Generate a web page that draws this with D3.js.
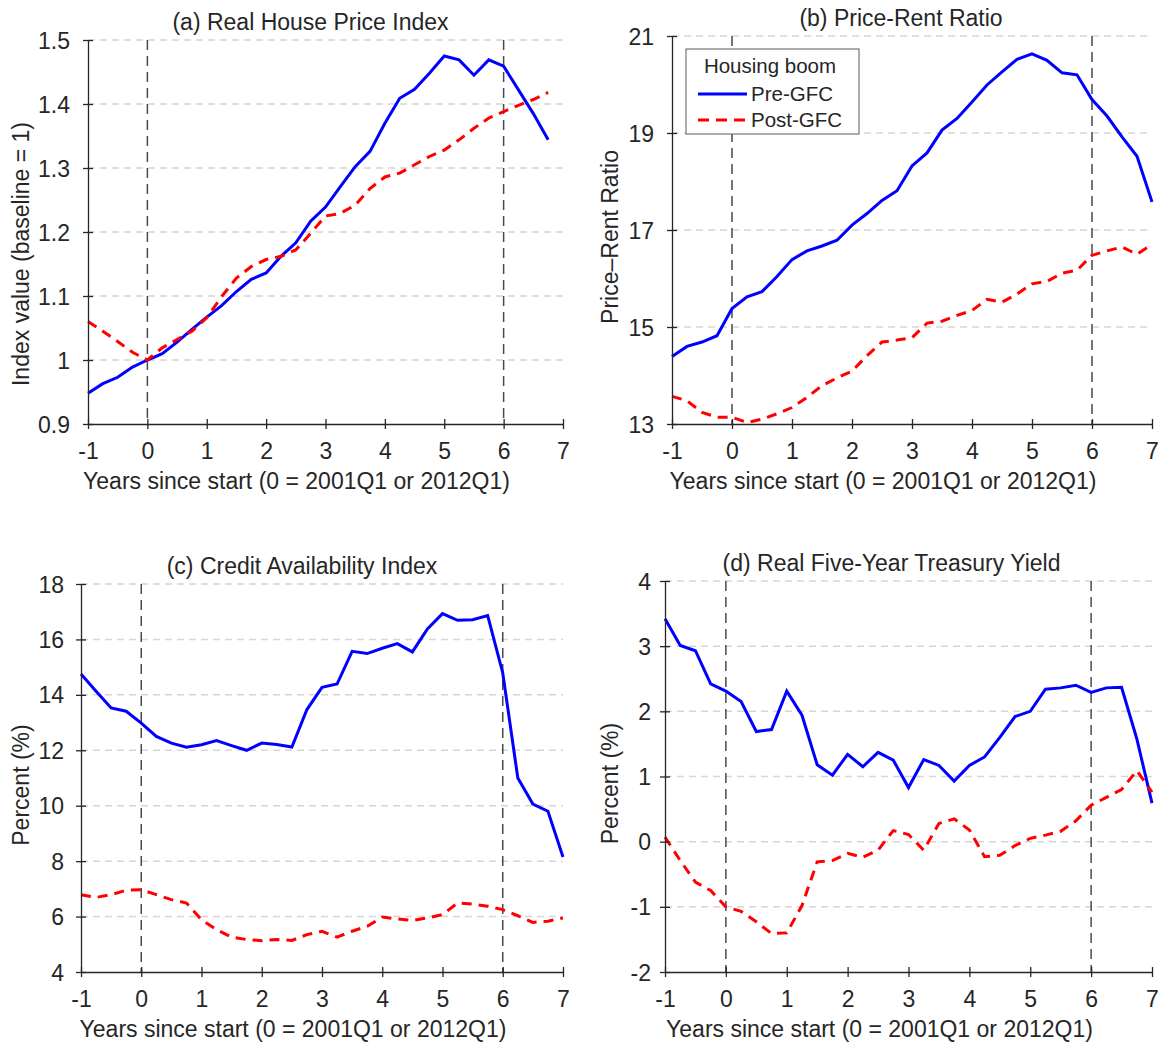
<!DOCTYPE html>
<html>
<head>
<meta charset="utf-8">
<script src="https://cdnjs.cloudflare.com/ajax/libs/d3/7.8.5/d3.min.js"></script>
<style>
    body { margin: 0; background: #fff; }
    svg text { font-family: "Liberation Sans", Arial, Helvetica, sans-serif; fill: #262626; }
</style>
</head>
<body>
<svg width="1162" height="1042"></svg>
<script>
// quarters since start of the boom
var years = [-1, -0.75, -0.5, -0.25, 0, 0.25, 0.5, 0.75, 1, 1.25, 1.5, 1.75, 2, 2.25, 2.5, 2.75,
    3, 3.25, 3.5, 3.75, 4, 4.25, 4.5, 4.75, 5, 5.25, 5.5, 5.75, 6, 6.25, 6.5, 6.75, 7];
var xTicks = [-1, 0, 1, 2, 3, 4, 5, 6, 7];
var boomLines = [0, 6];
var seriesNames = ["Pre-GFC", "Post-GFC"];

// (a) real house price index
var hpiPre = [0.948, 0.963, 0.973, 0.989, 1.000, 1.010, 1.028, 1.048, 1.067, 1.085, 1.107, 1.126, 1.136, 1.162, 1.183, 1.217,
    1.239, 1.271, 1.302, 1.326, 1.370, 1.409, 1.423, 1.448, 1.475, 1.469, 1.445, 1.469, 1.459, 1.422, 1.385, 1.344];
var hpiPost = [1.060, 1.045, 1.029, 1.012, 1.000, 1.019, 1.032, 1.045, 1.066, 1.099, 1.128, 1.146, 1.157, 1.162, 1.172, 1.198,
    1.225, 1.229, 1.242, 1.268, 1.286, 1.292, 1.305, 1.318, 1.328, 1.344, 1.362, 1.378, 1.388, 1.398, 1.407, 1.418];
var hpiTicks = [0.9, 1, 1.1, 1.2, 1.3, 1.4, 1.5];

// (b) price-rent ratio
var prPre = [14.39, 14.60, 14.69, 14.82, 15.38, 15.62, 15.73, 16.04, 16.39, 16.57, 16.67, 16.79, 17.10, 17.34, 17.61, 17.81,
    18.32, 18.59, 19.06, 19.30, 19.64, 19.99, 20.26, 20.52, 20.63, 20.50, 20.24, 20.20, 19.69, 19.35, 18.92, 18.52, 17.58];
var prPost = [13.57, 13.48, 13.24, 13.14, 13.14, 13.03, 13.10, 13.21, 13.34, 13.55, 13.79, 13.95, 14.09, 14.41, 14.69, 14.73,
    14.78, 15.08, 15.12, 15.24, 15.34, 15.57, 15.51, 15.68, 15.89, 15.94, 16.11, 16.17, 16.48, 16.57, 16.65, 16.50, 16.70];
var prTicks = [13, 15, 17, 19, 21];

// (c) credit availability index
var caiPre = [14.75, 14.13, 13.53, 13.41, 12.98, 12.50, 12.26, 12.11, 12.20, 12.35, 12.17, 12.00, 12.26, 12.21, 12.12, 13.47,
    14.27, 14.39, 15.57, 15.49, 15.68, 15.85, 15.55, 16.38, 16.93, 16.69, 16.71, 16.86, 14.79, 11.00, 10.06, 9.80, 8.15];
var caiPost = [6.79, 6.69, 6.79, 6.95, 6.97, 6.79, 6.61, 6.49, 5.89, 5.53, 5.26, 5.17, 5.13, 5.17, 5.14, 5.35,
    5.47, 5.26, 5.47, 5.65, 5.98, 5.92, 5.86, 5.95, 6.07, 6.49, 6.45, 6.37, 6.25, 6.03, 5.79, 5.83, 5.95];
var caiTicks = [4, 6, 8, 10, 12, 14, 16, 18];

// (d) real five-year treasury yield
var tyPre = [3.42, 3.01, 2.93, 2.42, 2.31, 2.15, 1.69, 1.72, 2.31, 1.94, 1.18, 1.02, 1.34, 1.15, 1.37, 1.25,
    0.83, 1.26, 1.17, 0.93, 1.17, 1.30, 1.60, 1.92, 2.00, 2.34, 2.36, 2.40, 2.29, 2.36, 2.37, 1.58, 0.59];
var tyPost = [0.07, -0.29, -0.62, -0.75, -1.00, -1.07, -1.23, -1.41, -1.40, -0.98, -0.31, -0.29, -0.18, -0.24, -0.13, 0.17,
    0.11, -0.13, 0.28, 0.35, 0.18, -0.23, -0.21, -0.06, 0.05, 0.10, 0.16, 0.32, 0.56, 0.68, 0.80, 1.09, 0.76];
var tyTicks = [-2, -1, 0, 1, 2, 3, 4];

var xLabel = "Years since start (0 = 2001Q1 or 2012Q1)";

var svg = d3.select("svg");
var FONT = 23;

function panel(box, pre, post, yTicks, title, yLabel) {
    var g = svg.append("g");

    var x = d3.scaleLinear().domain([-1, 7]).range([box.left, box.right]);
    var y = d3.scaleLinear().domain(d3.extent(yTicks)).range([box.bottom, box.top]);

    // horizontal grid
    g.selectAll(".grid")
        .data(yTicks.slice(1))
        .enter().append("line")
        .attr("x1", box.left).attr("x2", box.right)
        .attr("y1", function (d) { return y(d); })
        .attr("y2", function (d) { return y(d); })
        .attr("stroke", "#d6d6d6")
        .attr("stroke-width", 1.5)
        .attr("stroke-dasharray", "7,5");

    // start / end of boom markers
    g.selectAll(".mark")
        .data(boomLines)
        .enter().append("line")
        .attr("x1", function (d) { return x(d); })
        .attr("x2", function (d) { return x(d); })
        .attr("y1", box.top).attr("y2", box.bottom)
        .attr("stroke", "#4a4a4a")
        .attr("stroke-width", 1.5)
        .attr("stroke-dasharray", "10,6");

    var line = d3.line()
        .x(function (d, i) { return x(years[i]); })
        .y(function (d) { return y(d); });

    g.append("path")
        .datum(pre)
        .attr("fill", "none")
        .attr("stroke", "#0000ff")
        .attr("stroke-width", 3)
        .attr("d", line);

    g.append("path")
        .datum(post)
        .attr("fill", "none")
        .attr("stroke", "#ff0000")
        .attr("stroke-width", 3)
        .attr("stroke-dasharray", "10,7")
        .attr("d", line);

    // axes
    var xAxis = g.append("g")
        .attr("transform", "translate(0," + box.bottom + ")")
        .call(d3.axisBottom(x).tickValues(xTicks).tickSizeInner(5).tickSizeOuter(0)
            .tickFormat(function (d) { return String(d); }));
    xAxis.selectAll(".tick line").attr("y1", -5);
    xAxis.selectAll(".tick text").attr("y", 27).attr("dy", "0.35em");

    var yAxis = g.append("g")
        .attr("transform", "translate(" + box.left + ",0)")
        .call(d3.axisLeft(y).tickValues(yTicks).tickSizeInner(5).tickSizeOuter(0)
            .tickFormat(function (d) { return String(d); }));
    yAxis.selectAll(".tick line").attr("x1", 5);
    yAxis.selectAll(".tick text").attr("x", -box.gap).attr("dy", "0.35em");

    [xAxis, yAxis].forEach(function (a) {
        a.attr("font-size", FONT).attr("font-family", null);
        a.selectAll("path, line").attr("stroke", "#262626").attr("stroke-width", 1.3);
        a.selectAll("text").attr("fill", "#262626");
    });

    var cx = (box.left + box.right) / 2;
    g.append("text")
        .attr("x", cx - box.titleShift)
        .attr("y", box.top - 10)
        .attr("text-anchor", "middle")
        .attr("font-size", FONT)
        .text(title);

    g.append("text")
        .attr("x", cx - 29)
        .attr("y", box.bottom + 57)
        .attr("dy", "0.35em")
        .attr("text-anchor", "middle")
        .attr("font-size", FONT)
        .text(xLabel);

    g.append("text")
        .attr("transform", "translate(" + box.yLabelX + "," + ((box.top + box.bottom) / 2 + box.yLabelShift) + ") rotate(-90)")
        .attr("dy", "0.35em")
        .attr("text-anchor", "middle")
        .attr("font-size", FONT)
        .text(yLabel);

    return g;
}

panel({left: 88, right: 563, top: 40, bottom: 424, gap: 18, yLabelX: 21, yLabelShift: 22, titleShift: 15},
    hpiPre, hpiPost, hpiTicks, "(a) Real House Price Index", "Index value (baseline = 1)");

var pb = {left: 672, right: 1152, top: 36, bottom: 424, gap: 18, yLabelX: 610, yLabelShift: 7, titleShift: 11};
panel(pb, prPre, prPost, prTicks, "(b) Price-Rent Ratio", "Price\u2013Rent Ratio");

panel({left: 81, right: 563, top: 584, bottom: 972, gap: 17, yLabelX: 21, yLabelShift: 7, titleShift: 20},
    caiPre, caiPost, caiTicks, "(c) Credit Availability Index", "Percent (%)");

panel({left: 665, right: 1152, top: 581, bottom: 972, gap: 14, yLabelX: 610, yLabelShift: 7, titleShift: 17},
    tyPre, tyPost, tyTicks, "(d) Real Five-Year Treasury Yield", "Percent (%)");

// legend in panel (b)
var lg = svg.append("g").attr("transform", "translate(" + (pb.left + 14) + "," + (pb.top + 13) + ")");
lg.append("rect")
    .attr("width", 173).attr("height", 85)
    .attr("fill", "#fff")
    .attr("stroke", "#5a5a5a")
    .attr("stroke-width", 1);
lg.append("text")
    .attr("x", 84).attr("y", 17).attr("dy", "0.35em")
    .attr("text-anchor", "middle")
    .attr("font-size", 20.5)
    .text("Housing boom");
var rows = lg.selectAll(".row")
    .data(seriesNames)
    .enter().append("g")
    .attr("transform", function (d, i) { return "translate(0," + (45 + i * 26) + ")"; });
rows.append("line")
    .attr("x1", 12).attr("x2", 61)
    .attr("stroke", function (d, i) { return i === 0 ? "#0000ff" : "#ff0000"; })
    .attr("stroke-width", 3)
    .attr("stroke-dasharray", function (d, i) { return i === 0 ? null : "11,7"; });
rows.append("text")
    .attr("x", 65).attr("dy", "0.35em")
    .attr("font-size", 20.5)
    .text(function (d) { return d; });
</script>
</body>
</html>
